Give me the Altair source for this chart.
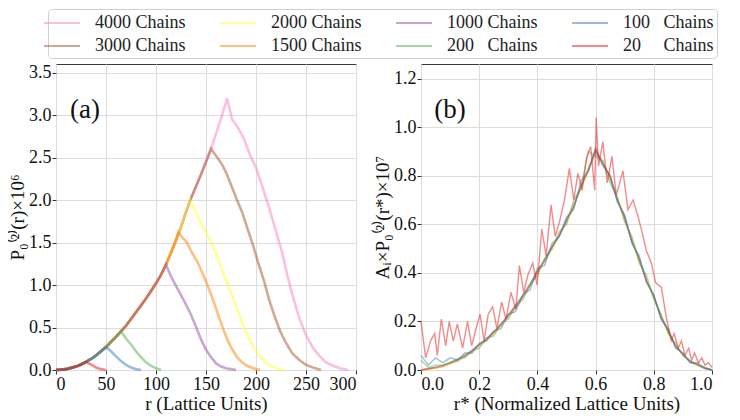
import altair as alt
import pandas as pd

FONT = "Liberation Serif"

# ---- series identity -------------------------------------------------------
chains = [4000, 3000, 2000, 1500, 1000, 200, 100, 20]          # drawing order
legend_chains = [4000, 2000, 1000, 100, 3000, 1500, 200, 20]   # legend (row-major)
labels = {
    4000: "4000 Chains", 3000: "3000 Chains", 2000: "2000 Chains",
    1500: "1500 Chains", 1000: "1000 Chains",
    200: "200\u00a0\u00a0\u00a0Chains", 100: "100\u00a0\u00a0\u00a0Chains",
    20: "20\u00a0\u00a0\u00a0\u00a0\u00a0Chains",
}
colors = {4000: "#f781bf", 3000: "#a65628", 2000: "#ffff33", 1500: "#ff7f00",
          1000: "#984ea3", 200: "#4daf4a", 100: "#377eb8", 20: "#e41a1c"}

# ---- panel (a): shared rising part (r, P x 1e6) -----------------------------
rise_r = [0, 5, 10, 15, 20, 25, 30, 35, 40, 45, 50, 55, 60, 65, 70, 75, 80, 85,
          90, 95, 100, 105, 110, 115, 120, 125, 130, 135, 140, 145, 150, 155,
          160, 165, 170]
rise_v = [0.0, 0.004, 0.01, 0.025, 0.04, 0.065, 0.095, 0.13, 0.17, 0.22, 0.27,
          0.33, 0.39, 0.455, 0.52, 0.6, 0.68, 0.76, 0.84, 0.93, 1.02, 1.12,
          1.24, 1.38, 1.53, 1.68, 1.86, 2.02, 2.16, 2.3, 2.45, 2.6, 2.78, 2.96,
          3.15]
# last rising r included by each series
rise_end = {20: 30, 100: 50, 200: 65, 1000: 110, 1500: 120, 2000: 130,
            3000: 155, 4000: 170}
# falling part of each series
fall_r = {
    20: [35, 40, 45, 50],
    100: [55, 60, 65, 70, 75, 80, 85],
    200: [70, 75, 80, 85, 90, 95, 100, 105],
    1000: [115, 120, 125, 130, 135, 140, 145, 150, 155, 160, 165, 170, 175, 180],
    1500: [122.5, 127, 131, 136, 141.6, 146, 150, 155, 159, 163, 167, 172, 176,
           181, 186, 191, 197, 204],
    2000: [134, 138, 142, 147, 152, 157, 162, 167, 172, 177, 183, 188, 193, 198,
           204, 210, 216, 222, 228],
    3000: [160, 166, 171, 176, 181, 186, 191, 197, 202, 208, 213, 219, 224, 229,
           236, 243, 250, 257, 265],
    4000: [171, 176, 182, 188, 194, 200, 206, 212, 219, 226, 231, 236, 243, 250,
           257, 264, 270, 277, 284, 292],
}
fall_v = {
    20: [0.065, 0.03, 0.01, 0.0],
    100: [0.22, 0.16, 0.105, 0.06, 0.03, 0.01, 0.0],
    200: [0.37, 0.3, 0.22, 0.15, 0.09, 0.05, 0.02, 0.0],
    1000: [1.1, 0.99, 0.88, 0.77, 0.65, 0.51, 0.36, 0.24, 0.15, 0.08, 0.04,
           0.02, 0.01, 0.0],
    1500: [1.62, 1.55, 1.5, 1.38, 1.27, 1.15, 1.04, 0.89, 0.76, 0.62, 0.49,
           0.34, 0.25, 0.15, 0.09, 0.05, 0.02, 0.0],
    2000: [2.0, 1.9, 1.8, 1.68, 1.57, 1.45, 1.31, 1.15, 1.0, 0.85, 0.66, 0.5,
           0.37, 0.26, 0.16, 0.08, 0.04, 0.015, 0.0],
    3000: [2.52, 2.42, 2.3, 2.15, 2.0, 1.86, 1.68, 1.47, 1.27, 1.05, 0.83,
           0.62, 0.46, 0.34, 0.2, 0.12, 0.06, 0.03, 0.0],
    4000: [3.2, 2.95, 2.85, 2.72, 2.53, 2.38, 2.17, 1.95, 1.67, 1.39, 1.13,
           0.9, 0.62, 0.41, 0.26, 0.16, 0.09, 0.05, 0.02, 0.0],
}

# ---- panel (b): normalized curves (r*, A_i P x 1e7) ---------------------------
rb = [0.0, 0.025, 0.05, 0.075, 0.1, 0.125, 0.15, 0.175, 0.2, 0.225, 0.25,
      0.275, 0.3, 0.325, 0.35, 0.375, 0.4, 0.425, 0.45, 0.475, 0.5, 0.525,
      0.55, 0.575, 0.6, 0.625, 0.65, 0.675, 0.7, 0.725, 0.75, 0.775, 0.8,
      0.825, 0.85, 0.875, 0.9, 0.925, 0.95, 0.975, 1.0]
vb = {
    4000: [0.0, 0.004, 0.007, 0.016, 0.024, 0.04, 0.053, 0.077, 0.098, 0.127,
           0.148, 0.188, 0.218, 0.263, 0.298, 0.353, 0.398, 0.454, 0.497, 0.559,
           0.607, 0.684, 0.746, 0.834, 0.895, 0.862, 0.785, 0.705, 0.615, 0.535,
           0.448, 0.372, 0.298, 0.222, 0.152, 0.102, 0.061, 0.034, 0.019, 0.008,
           0.0],
    3000: [0.0, 0.003, 0.009, 0.014, 0.027, 0.036, 0.057, 0.073, 0.103, 0.122,
           0.153, 0.182, 0.224, 0.256, 0.304, 0.346, 0.404, 0.446, 0.505, 0.551,
           0.614, 0.676, 0.755, 0.826, 0.905, 0.855, 0.795, 0.7, 0.625, 0.528,
           0.455, 0.366, 0.303, 0.218, 0.158, 0.098, 0.064, 0.036, 0.021, 0.007,
           0.0],
    2000: [0.0, 0.002, 0.008, 0.016, 0.023, 0.039, 0.054, 0.076, 0.097, 0.127,
           0.147, 0.187, 0.217, 0.262, 0.296, 0.352, 0.396, 0.452, 0.496, 0.558,
           0.606, 0.682, 0.744, 0.832, 0.893, 0.858, 0.783, 0.712, 0.612, 0.538,
           0.446, 0.372, 0.296, 0.224, 0.151, 0.103, 0.059, 0.035, 0.018, 0.009,
           0.0],
    1500: [0.0, 0.005, 0.01, 0.018, 0.028, 0.042, 0.058, 0.079, 0.104, 0.129,
           0.156, 0.189, 0.225, 0.264, 0.305, 0.354, 0.405, 0.453, 0.505, 0.553,
           0.615, 0.675, 0.757, 0.822, 0.91, 0.848, 0.797, 0.703, 0.628, 0.532,
           0.457, 0.368, 0.305, 0.216, 0.16, 0.097, 0.065, 0.033, 0.022, 0.007,
           0.0],
    1000: [0.0, 0.006, 0.012, 0.02, 0.03, 0.044, 0.06, 0.081, 0.106, 0.13,
           0.158, 0.19, 0.227, 0.266, 0.307, 0.355, 0.407, 0.455, 0.508, 0.552,
           0.618, 0.672, 0.76, 0.818, 0.915, 0.845, 0.8, 0.698, 0.63, 0.528,
           0.46, 0.364, 0.308, 0.212, 0.162, 0.094, 0.067, 0.031, 0.024, 0.006,
           0.0],
    200: [0.04, 0.01, 0.02, 0.02, 0.03, 0.045, 0.05, 0.08, 0.09, 0.13, 0.14,
          0.19, 0.21, 0.26, 0.29, 0.35, 0.39, 0.46, 0.5, 0.57, 0.6, 0.7, 0.75,
          0.9, 0.88, 0.86, 0.77, 0.71, 0.61, 0.55, 0.44, 0.39, 0.29, 0.23, 0.15,
          0.11, 0.06, 0.04, 0.02, 0.01, 0.0],
    100: [0.06, 0.02, 0.05, 0.03, 0.05, 0.04, 0.07, 0.07, 0.11, 0.12, 0.16,
          0.17, 0.23, 0.24, 0.31, 0.33, 0.42, 0.43, 0.52, 0.55, 0.63, 0.66,
          0.78, 0.82, 0.9, 0.84, 0.8, 0.69, 0.64, 0.52, 0.47, 0.36, 0.31, 0.21,
          0.17, 0.09, 0.07, 0.03, 0.03, 0.01, 0.0],
}
red_r = [0.0, 0.016, 0.033, 0.047, 0.056, 0.07, 0.085, 0.097, 0.111, 0.125,
         0.143, 0.16, 0.174, 0.189, 0.203, 0.217, 0.231, 0.246, 0.261, 0.277,
         0.292, 0.309, 0.326, 0.338, 0.353, 0.367, 0.384, 0.399, 0.415, 0.43,
         0.447, 0.461, 0.476, 0.493, 0.51, 0.525, 0.539, 0.554, 0.568, 0.583,
         0.597, 0.602, 0.61, 0.625, 0.64, 0.656, 0.671, 0.694, 0.711, 0.729,
         0.744, 0.757, 0.775, 0.792, 0.806, 0.826, 0.844, 0.86, 0.87, 0.884,
         0.895, 0.907, 0.92, 0.93, 0.94, 0.953, 0.965, 0.976, 0.988, 1.0]
red_v = [0.2, 0.05, 0.12, 0.15, 0.06, 0.21, 0.1, 0.2, 0.12, 0.19, 0.09, 0.2,
         0.1, 0.17, 0.23, 0.12, 0.23, 0.26, 0.17, 0.28, 0.21, 0.32, 0.25, 0.43,
         0.32, 0.39, 0.44, 0.35, 0.58, 0.47, 0.68, 0.55, 0.61, 0.7, 0.83, 0.7,
         0.81, 0.74, 0.87, 0.92, 0.74, 1.04, 0.84, 0.94, 0.77, 0.88, 0.72, 0.82,
         0.66, 0.7, 0.64, 0.58, 0.49, 0.44, 0.36, 0.34, 0.21, 0.12, 0.15, 0.09,
         0.12, 0.06, 0.09, 0.04, 0.07, 0.03, 0.05, 0.02, 0.03, 0.01]

# ---- build tables -----------------------------------------------------------
rows_a = []
for n in chains:
    for r, v in zip(rise_r, rise_v):
        if r <= rise_end[n]:
            rows_a.append({"n": n, "label": labels[n], "r": r, "v": v})
    for r, v in zip(fall_r[n], fall_v[n]):
        rows_a.append({"n": n, "label": labels[n], "r": r, "v": v})
df_a = pd.DataFrame(rows_a)

rows_b = []
for n in chains:
    pairs = zip(red_r, red_v) if n == 20 else zip(rb, vb[n])
    for r, v in pairs:
        rows_b.append({"n": n, "label": labels[n], "r": r, "v": v})
df_b = pd.DataFrame(rows_b)

color_scale = alt.Scale(domain=[labels[k] for k in legend_chains],
                        range=[colors[k] for k in legend_chains])
legend = alt.Legend(
    title=None, orient="none", legendX=-8, legendY=-55, offset=0,
    direction="horizontal", columns=4, symbolType="M-1.8,0H1.8",
    symbolSize=400, symbolStrokeWidth=2, symbolOpacity=0.5,
    labelFont=FONT, labelFontSize=18, labelColor="#222222", labelOffset=22,
    labelLimit=300, columnPadding=30, rowPadding=3, padding=3,
    strokeColor="#d0d0d0", fillColor="white", cornerRadius=4,
)


def panel(df, xdom, ydom, xvals, yvals, xfmt, yfmt, xtitle, ytitle, sw, tag, w):
    layers = []
    for n in chains:
        sub = df[df.n == n]
        layers.append(
            alt.Chart(sub).mark_line(strokeWidth=sw, opacity=0.5).encode(
                x=alt.X("r:Q", scale=alt.Scale(domain=xdom, nice=False, zero=False),
                        axis=alt.Axis(values=xvals, format=xfmt, title=xtitle)),
                y=alt.Y("v:Q", scale=alt.Scale(domain=ydom, nice=False),
                        axis=alt.Axis(values=yvals, format=yfmt, title=ytitle)),
                color=alt.Color("label:N", scale=color_scale, legend=legend),
            )
        )
    txt = alt.Chart(pd.DataFrame({"t": [tag]})).mark_text(
        font=FONT, fontSize=27, align="center", baseline="middle", color="#111"
    ).encode(x=alt.value(29), y=alt.value(46), text="t:N")
    layers.append(txt)
    return alt.layer(*layers).properties(width=w, height=306)


pa = panel(df_a, [0, 300], [0, 3.6], [0, 50, 100, 150, 200, 250, 300],
           [0, 0.5, 1.0, 1.5, 2.0, 2.5, 3.0, 3.5], "d", ".1f",
           "r (Lattice Units)", "P\u2080\u207d\u00b2\u207e(r)\u00d710\u2076",
           2.6, "(a)", 300)
pb = panel(df_b, [0, 1], [0, 1.26], [0, 0.2, 0.4, 0.6, 0.8, 1.0],
           [0, 0.2, 0.4, 0.6, 0.8, 1.0, 1.2], ".1f", ".1f",
           "r* (Normalized Lattice Units)",
           "A\u1d62\u00d7P\u2080\u207d\u00b2\u207e(r*)\u00d710\u2077",
           1.4, "(b)", 291)

chart = alt.hconcat(pa, pb, spacing=16).properties(
    padding={"left": 0, "top": 0, "right": 0, "bottom": 0},
).configure_view(
    stroke="#3a3a3a", strokeWidth=1
).configure_axis(
    labelFont=FONT, titleFont=FONT, labelFontSize=18, titleFontSize=19,
    labelColor="#111111", titleColor="#111111", titleFontWeight="normal",
    gridColor="#dddddd", gridWidth=1, tickColor="#333333", tickSize=4,
    domain=False, labelPadding=1, titlePadding=1,
).configure_legend(
    labelFont=FONT, labelFontSize=18
).configure_text(font=FONT)

chart.save("out.html", embed_options={"renderer": "svg", "actions": False})
